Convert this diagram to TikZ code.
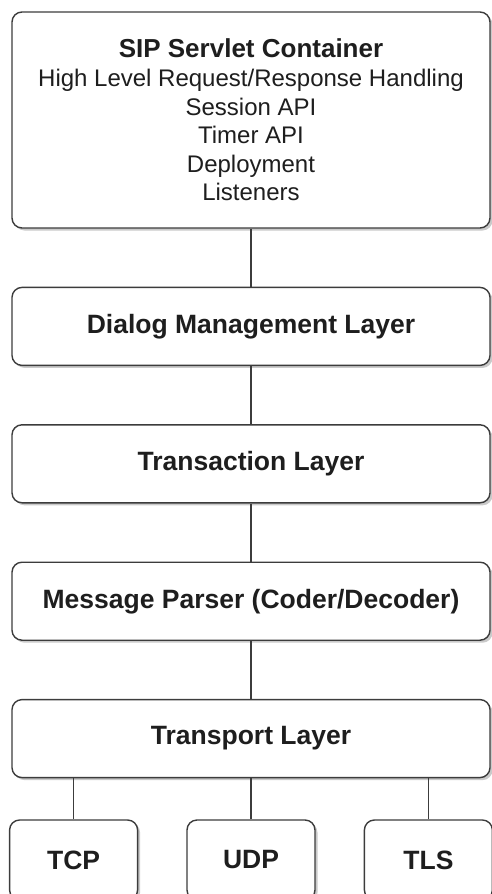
\documentclass[tikz,border=0pt]{standalone}
\usepackage{fontspec}
\setmainfont{Liberation Sans}
\usetikzlibrary{positioning, shadows}

\definecolor{edgeGray}{HTML}{3C3C3C}
\definecolor{textGray}{HTML}{1E1E1E}

\tikzset{
  layerBox/.style={draw=edgeGray, line width=1.4pt, rounded corners=10pt, fill=white,
    drop shadow={shadow xshift=2.5pt, shadow yshift=-2.5pt, fill=gray!70, opacity=0.6},
    minimum width=478pt, minimum height=78pt, inner sep=0pt, align=center,
    text=textGray, font=\fontsize{26.5}{30}\selectfont\bfseries},
  protoBox/.style={layerBox, minimum width=128pt, minimum height=80pt},
  linkLine/.style={draw=edgeGray, line width=1.4pt}
}

\begin{document}
\begin{tikzpicture}
  \useasboundingbox (0,0) rectangle (491pt,-894pt);

  %% --- pilha de camadas ---
  \node[layerBox, minimum height=216pt, font=\fontsize{24}{28.6}\selectfont] (container) at (251pt,-120pt)
    {{\fontsize{26}{28.6}\selectfont\bfseries SIP Servlet Container}\\
     High Level Request/Response Handling\\
     Session API\\
     Timer API\\
     Deployment\\
     Listeners};

  \node[layerBox, below=58pt of container] (dialog) {Dialog Management Layer};
  \node[layerBox, below=58pt of dialog] (transaction) {Transaction Layer};
  \node[layerBox, below=58pt of transaction] (parser) {Message Parser (Coder/Decoder)};
  \node[layerBox, below=58pt of parser] (transport) {Transport Layer};

  % protocolos de transporte
  \node[protoBox, below=41pt of transport] (udp) {UDP};
  \node[protoBox, left=48pt of udp] (tcp) {TCP};
  \node[protoBox, right=48pt of udp] (tls) {TLS};

  %% --- ligacoes ---
  \draw[linkLine] (container) -- (dialog);
  \draw[linkLine] (dialog) -- (transaction);
  \draw[linkLine] (transaction) -- (parser);
  \draw[linkLine] (parser) -- (transport);
  \draw[linkLine] (udp) -- (transport);
  \draw[linkLine] (tcp.north) -- (tcp.north |- transport.south);
  \draw[linkLine] (tls.north) -- (tls.north |- transport.south);
\end{tikzpicture}
\end{document}
